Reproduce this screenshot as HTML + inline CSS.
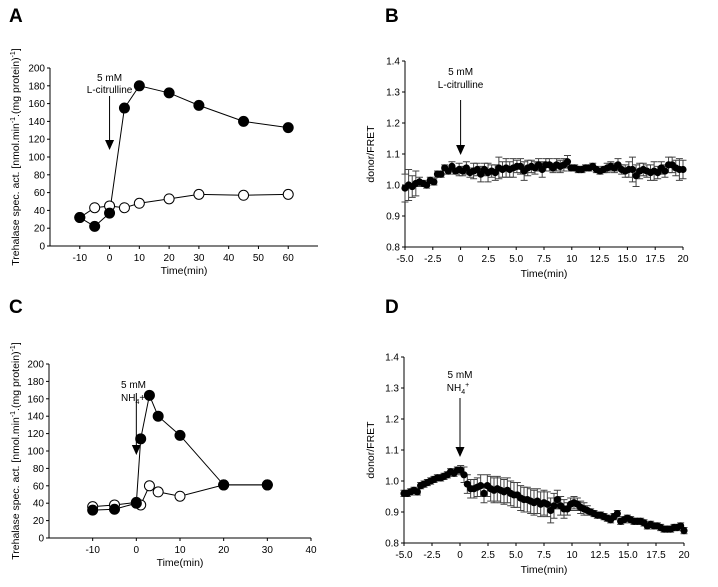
<!DOCTYPE html>
<html><head><meta charset="utf-8"><style>
html,body{margin:0;padding:0;background:#fff;}
svg{display:block;font-family:"Liberation Sans",Arial,sans-serif;}
</style></head><body>
<svg id="fig" width="718" height="587" viewBox="0 0 718 587" xmlns="http://www.w3.org/2000/svg"></svg>
<script>
// Panel A data
const aTime=[-10,-5,0,5,10,20,30,45,60];
const aFilled=[32,22,37,155,180,172,158,140,133];
const aOpenTime=[-10,-5,0,5,10,20,30,45,60];
const aOpen=[32,43,45,43,48,53,58,57,58];
// Panel C data
const cTime=[-10,-5,0,1,3,5,10,20,30];
const cFilled=[32,33,40,114,164,140,118,61,61];
const cOpenTime=[-10,-5,0,1,3,5,10,20,30];
const cOpen=[36,38,41,38,60,53,48,61,61];
const acYTicks=[0,20,40,60,80,100,120,140,160,180,200];
const aXTicks=[-10,0,10,20,30,40,50,60];
const cXTicks=[-10,0,10,20,30,40];
// Panel B data (time -5..20, evenly spaced)
const bValues=[0.99,1.00,0.995,1.005,1.01,1.005,1.00,1.015,1.01,1.035,1.035,1.055,1.045,1.06,1.045,1.05,1.045,1.055,1.04,1.045,1.05,1.035,1.05,1.04,1.045,1.04,1.055,1.05,1.055,1.05,1.055,1.06,1.06,1.045,1.055,1.06,1.055,1.065,1.05,1.065,1.065,1.055,1.065,1.06,1.065,1.075,1.055,1.055,1.05,1.05,1.055,1.055,1.06,1.05,1.045,1.05,1.055,1.06,1.055,1.065,1.05,1.045,1.05,1.05,1.03,1.045,1.05,1.045,1.04,1.045,1.04,1.055,1.045,1.065,1.065,1.055,1.05,1.05];
const bErr=[0.045,0.05,0.035,0.04,0.015,0.01,0.01,0.01,0.01,0.01,0.01,0.01,0.01,0.015,0.01,0.02,0.015,0.02,0.015,0.025,0.02,0.025,0.02,0.03,0.02,0.025,0.035,0.025,0.03,0.025,0.03,0.02,0.025,0.03,0.025,0.02,0.02,0.02,0.025,0.02,0.02,0.015,0.02,0.02,0.02,0.02,0.01,0.01,0.01,0.01,0.01,0.01,0.01,0.01,0.01,0.01,0.015,0.015,0.015,0.02,0.015,0.02,0.025,0.04,0.035,0.025,0.02,0.02,0.025,0.03,0.02,0.02,0.02,0.025,0.025,0.025,0.035,0.03];
// Panel D data
const dValues=[0.96,0.96,0.965,0.97,0.965,0.985,0.99,0.995,1.0,1.005,1.01,1.01,1.015,1.02,1.03,1.025,1.035,1.035,1.02,0.99,0.975,0.975,0.98,0.985,0.96,0.985,0.975,0.97,0.975,0.97,0.965,0.97,0.96,0.955,0.955,0.945,0.94,0.94,0.935,0.93,0.935,0.925,0.93,0.925,0.905,0.92,0.94,0.92,0.91,0.91,0.925,0.93,0.925,0.915,0.91,0.905,0.9,0.895,0.89,0.89,0.885,0.88,0.875,0.885,0.895,0.87,0.875,0.88,0.875,0.87,0.87,0.87,0.865,0.855,0.86,0.855,0.855,0.85,0.845,0.845,0.845,0.85,0.85,0.855,0.84];
const dErr=[0.01,0.01,0.01,0.01,0.01,0.01,0.01,0.01,0.01,0.01,0.01,0.01,0.01,0.01,0.01,0.01,0.01,0.015,0.025,0.03,0.03,0.03,0.03,0.035,0.03,0.035,0.04,0.04,0.04,0.04,0.04,0.04,0.04,0.04,0.04,0.04,0.04,0.04,0.04,0.04,0.04,0.04,0.04,0.04,0.04,0.04,0.03,0.03,0.03,0.02,0.02,0.02,0.02,0.02,0.02,0.015,0.01,0.01,0.01,0.01,0.01,0.01,0.01,0.01,0.01,0.01,0.01,0.01,0.01,0.01,0.01,0.01,0.01,0.01,0.01,0.01,0.01,0.01,0.01,0.01,0.01,0.01,0.01,0.01,0.01];
const bdYTicks=[0.8,0.9,1.0,1.1,1.2,1.3,1.4];
const bdXTicks=[-5,-2.5,0,2.5,5,7.5,10,12.5,15,17.5,20];
const bdXLabels=["-5.0","-2.5","0","2.5","5.0","7.5","10","12.5","15.0","17.5","20"];

const NS="http://www.w3.org/2000/svg";
const svg=document.getElementById('fig');
function el(tag,attrs,parent,text){const e=document.createElementNS(NS,tag);for(const k in attrs)e.setAttribute(k,attrs[k]);if(text!==undefined)e.textContent=text;(parent||svg).appendChild(e);return e;}
function lin(d0,d1,r0,r1){return v=>r0+(v-d0)/(d1-d0)*(r1-r0);}

function axes(g,x,y,x0,x1,y0,y1,xt,xl,yt,yfmt,tickY,titleY){
  const xa=el('line',{x1:x0,x2:x1,y1:y0,y2:y0,stroke:'#000','stroke-width':1},g);
  
  const ya=el('line',{x1:x0,x2:x0,y1:y0,y2:y1,stroke:'#000','stroke-width':1},g);
  
  xt.forEach((v,i)=>{const px=x(v);
    el('line',{x1:px,x2:px,y1:y0,y2:y0+3,stroke:'#000'},g);
    const t=el('text',{x:px,y:tickY,'font-size':10,'text-anchor':'middle'},g,xl[i]);
    });
  yt.forEach(v=>{const py=y(v);
    el('line',{x1:x0-3,x2:x0,y1:py,y2:py,stroke:'#000'},g);
    const t=el('text',{x:x0-5,y:py+3.5,'font-size':10,'text-anchor':'end'},g,yfmt(v));
    });
  const tt=el('text',{x:(x0+x1)/2,y:titleY,'font-size':10.5,'text-anchor':'middle'},g,'Time(min)');
  
}
function arrow(g,px,yTop,yBot){
  const a=el('line',{x1:px,x2:px,y1:yTop,y2:yBot-9,stroke:'#000','stroke-width':1},g);
  
  el('polygon',{points:`${px-4.5},${yBot-10} ${px+4.5},${yBot-10} ${px},${yBot}`,fill:'#000'},g);
}
function panelLetter(t,x,y){const e=el('text',{x:x,y:y,'font-size':19,'font-weight':'bold'},svg,t);
  }
function ytitle(g,x,y,text,isTre){
  const t=el('text',{x:0,y:0,'font-size':10.5,'text-anchor':'middle',transform:`translate(${x},${y}) rotate(-90)`},g);
  
  if(isTre){
    t.appendChild(document.createTextNode('Trehalase spec. act. [nmol.min'));
    el('tspan',{dy:-4,'font-size':7},t,'-1');
    el('tspan',{dy:4},t,'.(mg protein)');
    el('tspan',{dy:-4,'font-size':7},t,'-1');
    el('tspan',{dy:4},t,']');
  } else t.textContent=text;
}

function actPanel(name,y0,y1,x0,x1,xmin,xmax,xticks,times,filled,otimes,open,arrowSpec,labels){
  const g=el('g',{},svg);
  const x=lin(xmin,xmax,x0,x1),y=lin(0,200,y0,y1);
  axes(g,x,y,x0,x1,y0,y1,xticks,xticks.map(String),acYTicks,String,y0+15,y0+28);
  ytitle(g,19,(y0+y1)/2,'',true);
  const op=el('polyline',{points:otimes.map((t,i)=>x(t)+','+y(open[i])).join(' '),fill:'none',stroke:'#000'},g);
  
  const fp=el('polyline',{points:times.map((t,i)=>x(t)+','+y(filled[i])).join(' '),fill:'none',stroke:'#000'},g);
  
  otimes.forEach((t,i)=>{const c=el('circle',{cx:x(t),cy:y(open[i]),r:5,fill:'#fff',stroke:'#000'},g);
    });
  times.forEach((t,i)=>{const c=el('circle',{cx:x(t),cy:y(filled[i]),r:5,fill:'#000',stroke:'#000'},g);
    });
  arrow(g,x(0),arrowSpec[0],arrowSpec[1]);
  labels(g,x(0));
}
actPanel('panel-a',246,68,50,318,-20,70,aXTicks,aTime,aFilled,aOpenTime,aOpen,[96,150],(g,px)=>{
  el('text',{x:px,y:81,'font-size':10,'text-anchor':'middle'},g,'5 mM');
  el('text',{x:px,y:93,'font-size':10,'text-anchor':'middle'},g,'L-citrulline');
});
actPanel('panel-c',538,364,49,311,-20,40,cXTicks,cTime,cFilled,cOpenTime,cOpen,[393,455],(g,px)=>{
  el('text',{x:121,y:388,'font-size':10},g,'5 mM');
  const t=el('text',{x:121,y:401,'font-size':10},g,'NH');
  el('tspan',{dy:3,'font-size':7},t,'4');el('tspan',{dy:-3},t,'+');
});

function fretPanel(name,y0,y1,x0,x1,vals,errs,arrowSpec,labels){
  const g=el('g',{},svg);
  const x=lin(-5,20,x0,x1),y=lin(0.8,1.4,y0,y1);
  axes(g,x,y,x0,x1,y0,y1,bdXTicks,bdXLabels,bdYTicks,v=>v.toFixed(1),y0+15,y0+30);
  ytitle(g,374,(y0+y1)/2,'donor/FRET',false);
  const n=vals.length;
  vals.forEach((v,i)=>{const t=-5+25*i/(n-1),px=x(t);
    const hi=y(v+errs[i]),lo=y(v-errs[i]);
    const e=el('path',{d:`M${px},${hi}V${lo}M${px-3.5},${hi}H${px+3.5}M${px-3.5},${lo}H${px+3.5}`,stroke:'#444','stroke-width':1,fill:'none'},g);
    });
  vals.forEach((v,i)=>{const t=-5+25*i/(n-1);
    const c=el('circle',{cx:x(t),cy:y(v),r:3.6,fill:'#000'},g);
    });
  arrow(g,x(0),arrowSpec[0],arrowSpec[1]);
  labels(g,x(0));
}
fretPanel('panel-b',247,61,405,683,bValues,bErr,[100,155],(g,px)=>{
  el('text',{x:px,y:75,'font-size':10,'text-anchor':'middle'},g,'5 mM');
  el('text',{x:px,y:88,'font-size':10,'text-anchor':'middle'},g,'L-citrulline');
});
fretPanel('panel-d',543,357,404,684,dValues,dErr,[398,457],(g,px)=>{
  el('text',{x:px,y:378,'font-size':10,'text-anchor':'middle'},g,'5 mM');
  const t=el('text',{x:px-2,y:391,'font-size':10,'text-anchor':'middle'},g,'NH');
  el('tspan',{dy:3,'font-size':7},t,'4');el('tspan',{dy:-7,'font-size':7},t,'+');
});
panelLetter('A',9,22);panelLetter('B',385,22);panelLetter('C',9,313);panelLetter('D',385,313);
</script>
</body></html>
